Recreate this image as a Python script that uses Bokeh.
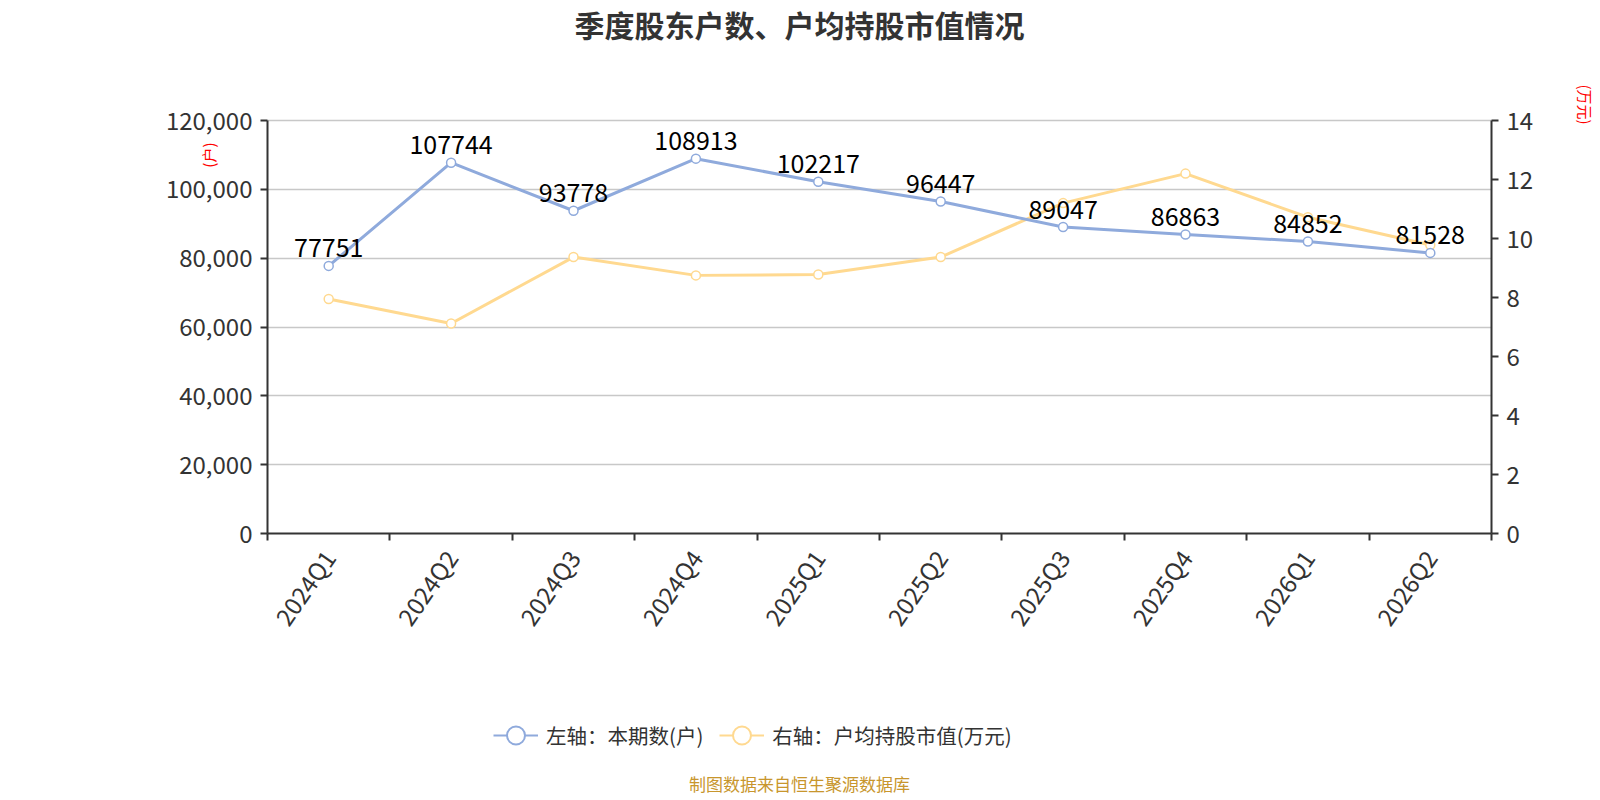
import math
from bokeh.plotting import figure
from bokeh.layouts import column
from bokeh.models import (Range1d, LinearAxis, FixedTicker, NumeralTickFormatter,
                          ColumnDataSource, Legend, LegendItem, Label, Title)
from bokeh.core.properties import value
from bokeh.embed import file_html
from bokeh.resources import INLINE

quarters = ["2024Q1", "2024Q2", "2024Q3", "2024Q4", "2025Q1",
            "2025Q2", "2025Q3", "2025Q4", "2026Q1", "2026Q2"]
holders = [77751, 107744, 93778, 108913, 102217, 96447, 89047, 86863, 84852, 81528]
avg_value = [7.95, 7.12, 9.37, 8.75, 8.78, 9.37, 11.2, 12.2, 10.72, 9.78]
left_ticks = [0, 20000, 40000, 60000, 80000, 100000, 120000]
right_ticks = [0, 2, 4, 6, 8, 10, 12, 14]
left_max = 120000
right_max = 14

FONT = "Noto Sans CJK SC"
BLUE = "#8FAADC"
YELLOW = "#FFD990"
TXT = "#333333"

# layout (figure pixels)
W = 1600
FRAME_L = 267
FRAME_W = 1224
FRAME_H = 533          # frame spans from the figure top down to the x axis
AXIS_PX = 413          # pixel height of the 0..max part of the y axes
MAIN_H = 663
FOOT_H = 133

xs = [i + 0.5 for i in range(len(quarters))]
src = ColumnDataSource(dict(x=xs, h=holders, v=avg_value,
                            lab=[str(h) for h in holders]))

p = figure(width=W, height=MAIN_H, output_backend="svg", toolbar_location=None,
           x_range=Range1d(0, len(quarters)),
           y_range=Range1d(0, left_max * FRAME_H / AXIS_PX),
           min_border_left=FRAME_L, min_border_right=W - FRAME_L - FRAME_W,
           min_border_top=0, min_border_bottom=MAIN_H - FRAME_H)
p.outline_line_color = None
p.background_fill_color = "white"
p.border_fill_color = "white"
p.extra_y_ranges = {"right": Range1d(0, right_max * FRAME_H / AXIS_PX)}

# x axis
xa = p.xaxis[0]
xa.ticker = FixedTicker(ticks=xs, minor_ticks=list(range(len(quarters) + 1)))
xa.major_label_overrides = {x: q for x, q in zip(xs, quarters)}
xa.major_tick_line_color = None
xa.minor_tick_line_color = TXT
xa.minor_tick_line_width = 2
xa.minor_tick_in = 0
xa.minor_tick_out = 7
xa.axis_line_color = TXT
xa.axis_line_width = 2
xa.major_label_orientation = math.radians(55)
xa.major_label_text_font = FONT
xa.major_label_text_font_size = "24px"
xa.major_label_text_color = TXT
xa.major_label_standoff = 12

# left axis
ya = p.yaxis[0]
ya.bounds = (0, left_max)
ya.ticker = FixedTicker(ticks=left_ticks)
ya.formatter = NumeralTickFormatter(format="0,0")
ya.axis_line_color = TXT
ya.axis_line_width = 2
ya.major_tick_line_color = TXT
ya.major_tick_line_width = 2
ya.major_tick_in = 0
ya.major_tick_out = 7
ya.minor_tick_line_color = None
ya.major_label_text_font = FONT
ya.major_label_text_font_size = "24px"
ya.major_label_text_color = TXT
ya.major_label_standoff = 8

# right axis
ra = LinearAxis(y_range_name="right", ticker=FixedTicker(ticks=right_ticks),
                bounds=(0, right_max))
ra.axis_line_color = TXT
ra.axis_line_width = 2
ra.major_tick_line_color = TXT
ra.major_tick_line_width = 2
ra.major_tick_in = 0
ra.major_tick_out = 7
ra.minor_tick_line_color = None
ra.major_label_text_font = FONT
ra.major_label_text_font_size = "24px"
ra.major_label_text_color = TXT
ra.major_label_standoff = 8
p.add_layout(ra, "right")

# invisible spacer axis pushing the right unit label outwards
spacer = LinearAxis(y_range_name="right", ticker=FixedTicker(ticks=[right_max / 2]),
                    axis_line_color=None, major_tick_line_color="white",
                    major_tick_line_alpha=0.01,
                    minor_tick_line_color=None, major_tick_in=0, major_tick_out=38,
                    major_label_text_font_size="0px", major_label_text_alpha=0,
                    major_label_standoff=0)
p.add_layout(spacer, "right")

p.xgrid.grid_line_color = None
p.ygrid.ticker = FixedTicker(ticks=left_ticks)
p.ygrid.grid_line_color = "#C8C8C8"
p.ygrid.grid_line_width = 1.5

# unit labels
p.add_layout(Title(text="(户)", align="right", offset=142, standoff=-112,
                   text_color="red", text_font=FONT, text_font_size="15px",
                   text_font_style="normal"), "left")
p.add_layout(Title(text="(万元)", align="left", offset=84, standoff=0,
                   text_color="red", text_font=FONT, text_font_size="15px",
                   text_font_style="normal"), "right")

# series
p.line("x", "v", source=src, y_range_name="right", color=YELLOW, line_width=3)
p.scatter("x", "v", source=src, y_range_name="right", size=9, line_color=YELLOW,
          fill_color="white", line_width=1.5)
p.line("x", "h", source=src, color=BLUE, line_width=3)
p.scatter("x", "h", source=src, size=9, line_color=BLUE,
          fill_color="white", line_width=1.5)
p.text("x", "h", text="lab", source=src, text_align="center",
       text_baseline="alphabetic", y_offset=-18, text_font=value(FONT),
       text_font_size="25px", text_color="black")

# chart title inside the (extended) frame
p.add_layout(Label(x=532, y=FRAME_H - 23, x_units="screen", y_units="screen",
                   text="季度股东户数、户均持股市值情况", text_align="center",
                   text_baseline="middle", text_font=FONT, text_font_size="30px",
                   text_font_style="bold", text_color=TXT))

# footer: legend + source (frame aligned with the main frame)
f = figure(width=W, height=FOOT_H, output_backend="svg", toolbar_location=None,
           x_range=Range1d(0, 1), y_range=Range1d(0, 1),
           x_axis_location=None, y_axis_location=None,
           min_border_left=FRAME_L, min_border_right=W - FRAME_L - FRAME_W,
           min_border_top=0, min_border_bottom=0)
f.outline_line_color = None
f.grid.grid_line_color = None
nan = float("nan")
dummy = ColumnDataSource(dict(x=[nan], y=[nan]))
lb = f.line("x", "y", source=dummy, color=BLUE, line_width=2)
sb = f.scatter("x", "y", source=dummy, size=19, line_color=BLUE, fill_color="white", line_width=2)
ly = f.line("x", "y", source=dummy, color=YELLOW, line_width=2)
sy = f.scatter("x", "y", source=dummy, size=19, line_color=YELLOW, fill_color="white", line_width=2)
legend = Legend(items=[LegendItem(label="左轴：本期数(户)", renderers=[lb, sb]),
                       LegendItem(label="右轴：户均持股市值(万元)", renderers=[ly, sy])],
                orientation="horizontal", location=(226, 38),
                glyph_width=45, glyph_height=46, label_standoff=8, spacing=16,
                padding=0, margin=0, border_line_color=None,
                background_fill_alpha=0,
                label_text_font=FONT, label_text_font_size="20.5px",
                label_text_color=TXT)
f.add_layout(legend, "center")
f.add_layout(Label(x=532, y=13, x_units="screen", y_units="screen",
                   text="制图数据来自恒生聚源数据库", text_align="center",
                   text_baseline="middle", text_font=FONT, text_font_size="17px",
                   text_color="#C8962D"))

layout = column(p, f, spacing=0)
open("out.html", "w").write(file_html(layout, INLINE))
